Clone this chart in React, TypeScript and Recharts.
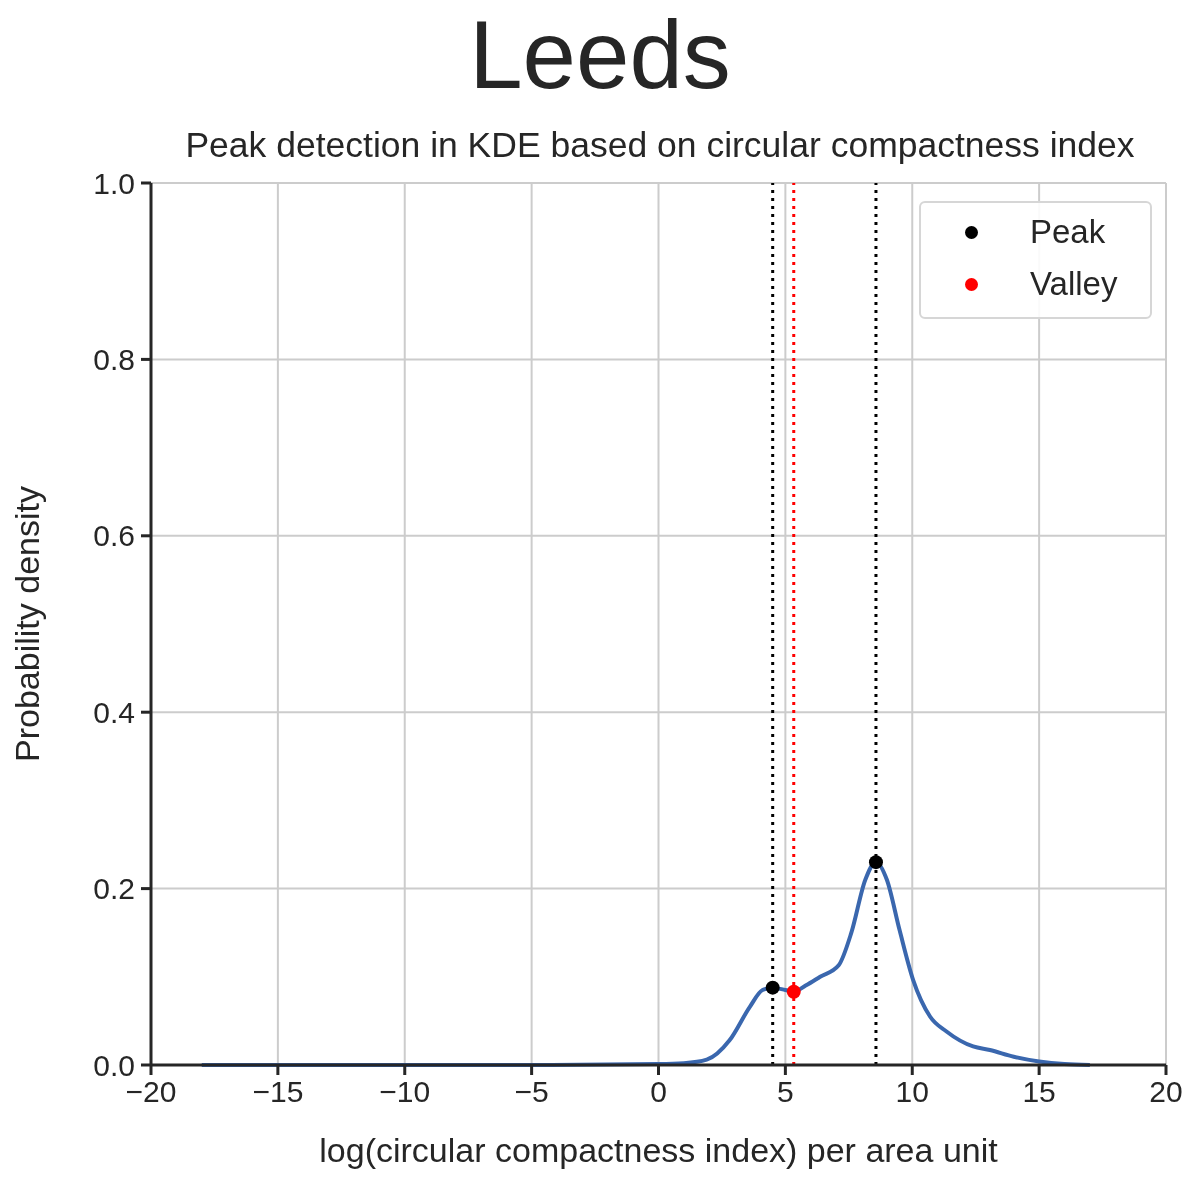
import { ComposedChart, Line, Scatter, XAxis, YAxis, CartesianGrid, ReferenceLine, Label } from "recharts";

const kdeX = [-18, -10, -5, 0, 1, 1.9, 2.8, 3.6, 4.1, 4.5, 5.0, 5.33, 5.8, 6.37, 7.1, 7.6, 8.15, 8.57, 9.0, 9.5, 10.04, 10.7, 11.35, 12.4, 13.06, 14, 15, 16, 17];
const kdeY = [0, 0, 0, 0.001, 0.002, 0.006, 0.028, 0.066, 0.085, 0.0877, 0.085, 0.083, 0.09, 0.1, 0.113, 0.15, 0.21, 0.23, 0.21, 0.153, 0.096, 0.055, 0.038, 0.021, 0.017, 0.0094, 0.004, 0.001, 0];
const peaks = [{ x: 4.5, y: 0.0877 }, { x: 8.57, y: 0.23 }];
const valleys = [{ x: 5.33, y: 0.083 }];
const xTicks = [-20, -15, -10, -5, 0, 5, 10, 15, 20];
const yTicks = [0, 0.2, 0.4, 0.6, 0.8, 1.0];

const kde = kdeX.map((x, i) => ({ x, y: kdeY[i] }));
const font = "'Liberation Sans', Arial, sans-serif";
const ink = "#262626";

export default function App() {
  return (
    <div style={{ position: "fixed", left: 0, top: 0, width: 1200, height: 1200, background: "#fff", fontFamily: font }}>
      <div style={{ position: "absolute", top: 0, width: 1200, textAlign: "center", fontSize: 96, color: ink }}>Leeds</div>
      <div style={{ position: "absolute", top: 125, left: 0, width: 1320, textAlign: "center", fontSize: 35.5, color: ink }}>
        Peak detection in KDE based on circular compactness index
      </div>
      <ComposedChart width={1200} height={1200} margin={{ top: 183, right: 34, bottom: 30, left: 71 }}>
        <CartesianGrid stroke="#cccccc" strokeWidth={2} vertical horizontal />
        <XAxis type="number" dataKey="x" domain={[-20, 20]} ticks={xTicks} height={105}
          tickFormatter={(v: number) => String(v).replace("-", "\u2212")}
          tick={{ fontSize: 30, fill: ink, fontFamily: font }} tickSize={10}
          stroke={ink} strokeWidth={3} tickMargin={6} allowDataOverflow>
          <Label value="log(circular compactness index) per area unit" position="insideBottom" offset={8} style={{ fontSize: 34, fill: ink, fontFamily: font }} />
        </XAxis>
        <YAxis type="number" dataKey="y" domain={[0, 1]} ticks={yTicks} width={80}
          tickFormatter={(v: number) => v.toFixed(1)}
          tick={{ fontSize: 30, fill: ink, fontFamily: font }} tickSize={10}
          stroke={ink} strokeWidth={3} tickMargin={6}>
          <Label value="Probability density" angle={-90} position="insideLeft" offset={-44} style={{ fontSize: 34, fill: ink, fontFamily: font, textAnchor: "middle" }} />
        </YAxis>
        {peaks.map((p) => (
          <ReferenceLine key={"p" + p.x} x={p.x} stroke="#000" strokeWidth={3} strokeDasharray="3 5" />
        ))}
        {valleys.map((p) => (
          <ReferenceLine key={"v" + p.x} x={p.x} stroke="#ff0000" strokeWidth={3} strokeDasharray="3 5" />
        ))}
        <Line data={kde} dataKey="y" type="monotone" stroke="#3a67ae" strokeWidth={4} dot={false} isAnimationActive={false} />
        <Scatter data={peaks} dataKey="y" fill="#000" isAnimationActive={false} shape={(p: any) => <circle cx={p.cx} cy={p.cy} r={7} fill="#000" />} />
        <Scatter data={valleys} dataKey="y" fill="#ff0000" isAnimationActive={false} shape={(p: any) => <circle cx={p.cx} cy={p.cy} r={7} fill="#ff0000" />} />
      </ComposedChart>
      <div style={{ position: "absolute", left: 919, top: 201, width: 229, height: 114, border: "2px solid #d6d6d6", borderRadius: 6, background: "rgba(255,255,255,0.9)", fontSize: 33, color: ink }}>
        <div style={{ position: "absolute", left: 44, top: 10, display: "flex", alignItems: "center" }}>
          <span style={{ width: 13, height: 13, borderRadius: 7, background: "#000", marginRight: 52 }} />Peak
        </div>
        <div style={{ position: "absolute", left: 44, top: 62, display: "flex", alignItems: "center" }}>
          <span style={{ width: 13, height: 13, borderRadius: 7, background: "#ff0000", marginRight: 52 }} />Valley
        </div>
      </div>
    </div>
  );
}
